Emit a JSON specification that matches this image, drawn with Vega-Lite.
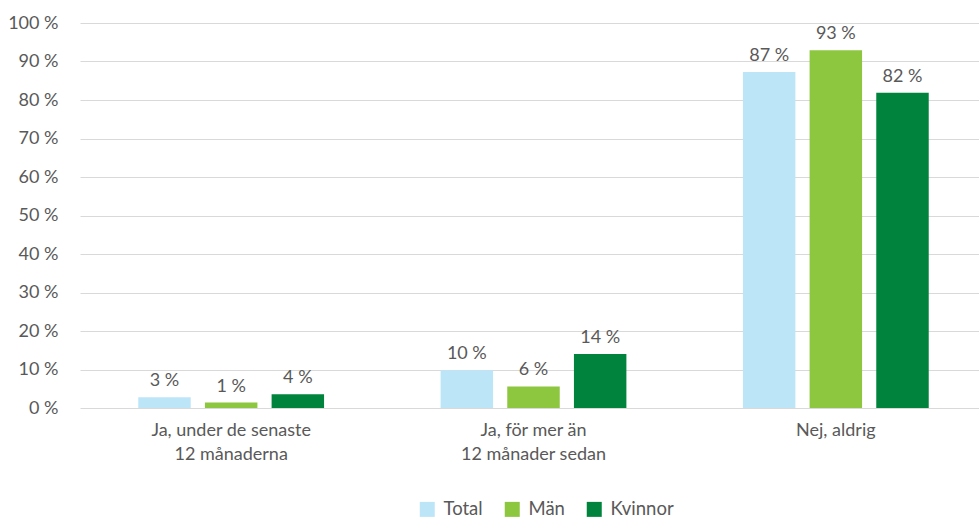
{
  "$schema": "https://vega.github.io/schema/vega-lite/v6.json",
  "width": 904,
  "height": 385,
  "autosize": {"type": "none"},
  "padding": {"left": 75, "top": 23, "right": 0, "bottom": 113},
  "background": "white",
  "config": {"view": {"stroke": null}, "font": "Lato"},
  "data": {
    "values": [
      {"category": "Ja, under de senaste 12 månaderna", "group": "Total", "value": 2.8},
      {"category": "Ja, under de senaste 12 månaderna", "group": "Män", "value": 1.4},
      {"category": "Ja, under de senaste 12 månaderna", "group": "Kvinnor", "value": 3.6},
      {"category": "Ja, för mer än 12 månader sedan", "group": "Total", "value": 9.8},
      {"category": "Ja, för mer än 12 månader sedan", "group": "Män", "value": 5.6},
      {"category": "Ja, för mer än 12 månader sedan", "group": "Kvinnor", "value": 14.0},
      {"category": "Nej, aldrig", "group": "Total", "value": 87.3},
      {"category": "Nej, aldrig", "group": "Män", "value": 92.9},
      {"category": "Nej, aldrig", "group": "Kvinnor", "value": 81.9}
    ]
  },
  "transform": [{"calculate": "format(datum.value, '.0f') + ' %'", "as": "label"}],
  "encoding": {
    "x": {
      "field": "category",
      "type": "nominal",
      "sort": ["Ja, under de senaste 12 månaderna", "Ja, för mer än 12 månader sedan", "Nej, aldrig"],
      "scale": {"range": [5, 912], "paddingInner": 0, "paddingOuter": 0},
      "axis": {
        "title": null,
        "labelAngle": 0,
        "domain": false,
        "ticks": false,
        "grid": false,
        "labelFontSize": 18,
        "labelColor": "#595959",
        "labelPadding": 13,
        "labelLineHeight": 24,
        "labelLimit": 400,
        "labelExpr": "split(replace(datum.label, ' 12 ', '|12 '), '|')"
      }
    },
    "xOffset": {
      "field": "group",
      "sort": ["Total", "Män", "Kvinnor"],
      "scale": {"paddingInner": 0.213, "paddingOuter": 0.874}
    },
    "y": {
      "field": "value",
      "type": "quantitative",
      "scale": {"domain": [0, 100], "nice": false},
      "axis": {
        "title": null,
        "values": [0, 10, 20, 30, 40, 50, 60, 70, 80, 90, 100],
        "labelExpr": "datum.value + ' %'",
        "domain": false,
        "ticks": false,
        "grid": true,
        "gridColor": "#d9d9d9",
        "gridWidth": 1,
        "labelPadding": 17,
        "labelFontSize": 18,
        "labelColor": "#595959"
      }
    }
  },
  "layer": [
    {
      "mark": {"type": "bar"},
      "encoding": {
        "color": {
          "field": "group",
          "type": "nominal",
          "sort": ["Total", "Män", "Kvinnor"],
          "scale": {"domain": ["Total", "Män", "Kvinnor"], "range": ["#BDE5F8", "#8DC63F", "#00843D"]},
          "legend": {
            "orient": "none",
            "legendX": 343,
            "legendY": 477,
            "direction": "horizontal",
            "title": null,
            "symbolType": "square",
            "symbolSize": 225,
            "symbolStrokeWidth": 0,
            "labelFontSize": 18.5,
            "labelColor": "#595959",
            "columnPadding": 20,
            "labelOffset": 7,
            "padding": 0
          }
        }
      }
    },
    {
      "mark": {"type": "text", "dy": -11, "baseline": "alphabetic", "fontSize": 18, "color": "#595959"},
      "encoding": {"text": {"field": "label"}}
    }
  ]
}
